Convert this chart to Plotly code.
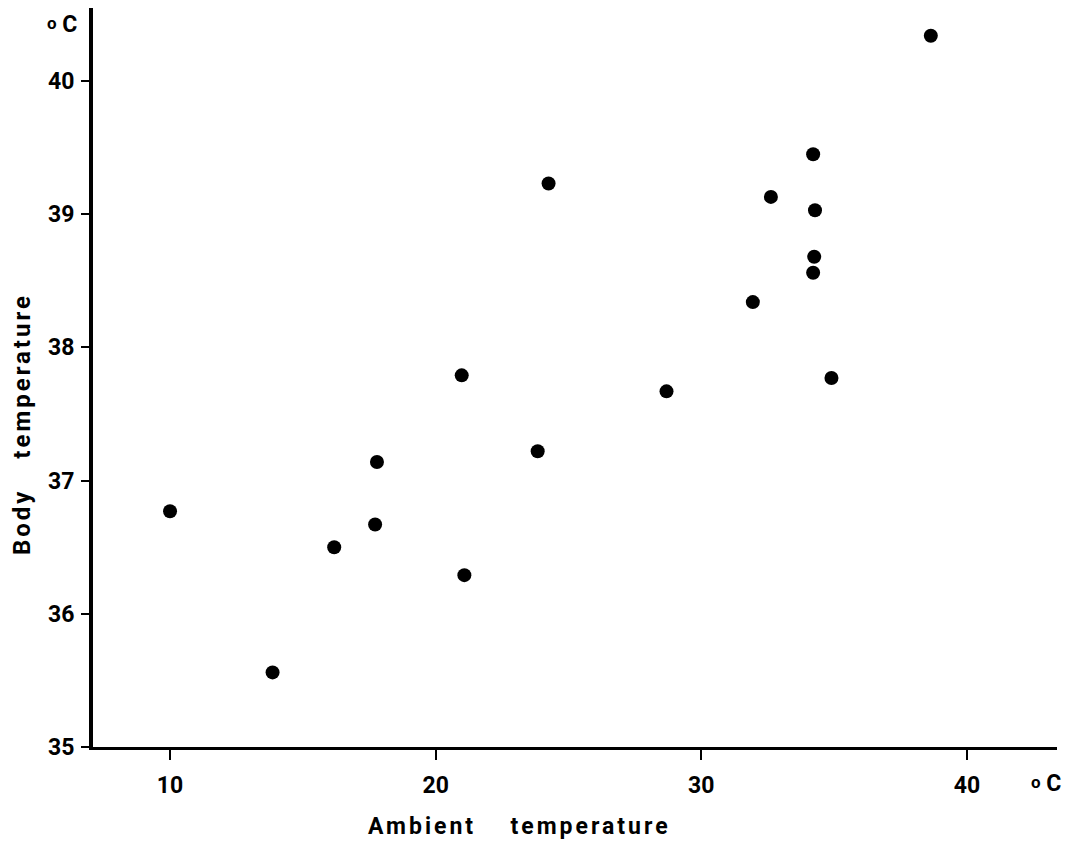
import plotly.graph_objects as go

# Data
ambient_temp = [10.0, 13.86, 16.18, 17.72, 17.79, 20.98, 21.08, 23.84, 24.25,
                28.69, 31.94, 32.62, 34.21, 34.28, 34.25, 34.21, 34.90, 38.64]
body_temp = [36.77, 35.56, 36.50, 36.67, 37.14, 37.79, 36.29, 37.22, 39.23,
             37.67, 38.34, 39.13, 39.45, 39.03, 38.68, 38.56, 37.77, 40.34]

x_ticks = [10, 20, 30, 40]
y_ticks = [35, 36, 37, 38, 39, 40]

FONT = "Roboto"

fig = go.Figure()
fig.add_trace(go.Scatter(
    x=ambient_temp, y=body_temp, mode="markers",
    marker=dict(size=14, color="black", line=dict(width=0)),
    showlegend=False, hoverinfo="x+y",
))

# page body has an 8px margin, so the figure is offset by 8px
fig.update_layout(
    width=1074, height=848,
    margin=dict(l=85, r=25, t=0, b=109),
    paper_bgcolor="white", plot_bgcolor="white",
    font=dict(family=FONT, color="black"),
)
fig.update_xaxes(
    range=[7.10, 43.39], tickvals=x_ticks, ticktext=[str(v) for v in x_ticks],
    showline=True, linecolor="black", linewidth=3, showgrid=False, zeroline=False,
    ticks="outside", ticklen=10, tickwidth=2, tickcolor="black",
    tickfont=dict(family=FONT, size=23, weight="bold"),
    ticklabelstandoff=5,
)
fig.update_yaxes(
    range=[35, 40.548], tickvals=y_ticks, ticktext=[str(v) for v in y_ticks],
    showline=True, linecolor="black", linewidth=4, showgrid=False, zeroline=False,
    ticks="outside", ticklen=8, tickwidth=2, tickcolor="black",
    tickfont=dict(family=FONT, size=23, weight="bold"),
    ticklabelstandoff=2,
)

# helpers: convert page pixel targets to paper coords
PL, PR, PT, PB = 93, 1057, 8, 747
def px(xp):
    return (xp - PL) / (PR - PL)
def py(yp):
    return (PB - yp) / (PB - PT)

SP = '<span style="letter-spacing:3px">{}</span>'
fig.add_annotation(
    text=SP.format("Ambient") + "      " + SP.format("temperature"),
    xref="paper", yref="paper", x=px(519), y=py(826),
    xanchor="center", yanchor="middle", showarrow=False,
    font=dict(family=FONT, size=23, color="black", weight="bold"),
)
fig.add_annotation(
    text=SP.format("Body") + "     " + SP.format("temperature"),
    xref="paper", yref="paper", x=px(22), y=py(424),
    xanchor="center", yanchor="middle", textangle=-90, showarrow=False,
    font=dict(family=FONT, size=24, color="black", weight="bold"),
)
DEG = '<span style="font-size:17px;baseline-shift:3px">o</span> C'
fig.add_annotation(
    text=DEG, xref="paper", yref="paper", x=px(62), y=py(24),
    xanchor="center", yanchor="middle", showarrow=False,
    font=dict(family=FONT, size=23, color="black", weight="bold"),
)
fig.add_annotation(
    text=DEG, xref="paper", yref="paper", x=px(1046), y=py(783),
    xanchor="center", yanchor="middle", showarrow=False,
    font=dict(family=FONT, size=23, color="black", weight="bold"),
)

fig.write_html("out.html")
